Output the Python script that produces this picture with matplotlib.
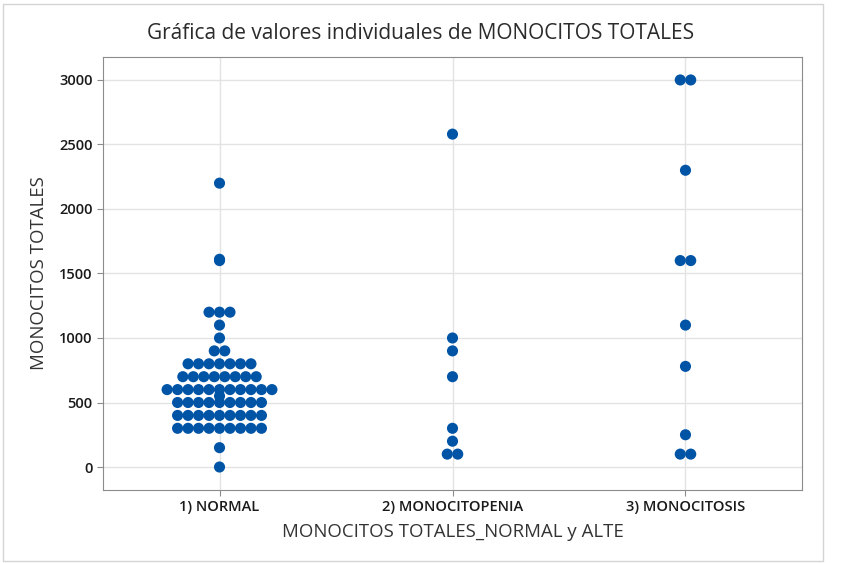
import numpy as np
import matplotlib.pyplot as plt
from matplotlib.patches import Rectangle

plt.rcParams['font.family'] = ['Open Sans', 'DejaVu Sans']

# Datos
grupos = ['1) NORMAL', '2) MONOCITOPENIA', '3) MONOCITOSIS']

normal = ([0, 150] + [300] * 9 + [400] * 9 + [500] * 9 + [550] + [600] * 11
          + [700] * 8 + [800] * 7 + [900] * 2 + [1000, 1100] + [1200] * 3
          + [1600, 1610, 2200])
monocitopenia = [100, 100, 200, 300, 700, 900, 1000, 2580]
monocitosis = [100, 100, 250, 780, 1100, 1600, 1600, 2300, 3000, 3000]

datos = [normal, monocitopenia, monocitosis]

color_punto = '#0054a6'
paso = 0.045  # separacion horizontal entre puntos repetidos

fig = plt.figure(figsize=(8.41, 5.63), dpi=100)
ax = fig.add_axes([0.1225, 0.1297, 0.8311, 0.7691])

for i, valores in enumerate(datos):
    valores = np.array(valores)
    for v in np.unique(valores):
        n = np.sum(valores == v)
        xs = (i + 1) + (np.arange(n) - (n - 1) / 2) * paso
        ax.scatter(xs, [v] * n, s=64, color=color_punto, edgecolors='none', zorder=3)

ax.set_xlim(0.5, 3.5)
ax.set_ylim(-178, 3178)
ax.set_xticks([1, 2, 3])
ax.set_xticklabels(grupos)
ax.set_yticks(np.arange(0, 3001, 500))

ax.grid(True, color='#e3e3e3', linewidth=1, zorder=0)
ax.set_axisbelow(True)
for s in ax.spines.values():
    s.set_color('#8c8c8c')
ax.tick_params(colors='#8c8c8c', labelcolor='#1a1a1a', labelsize=10.5, length=4)
for lab in ax.get_xticklabels() + ax.get_yticklabels():
    lab.set_fontweight('semibold')

ax.set_xlabel('MONOCITOS TOTALES_NORMAL y ALTE', fontsize=13.4, color='#333333', labelpad=6)
ax.set_ylabel('MONOCITOS TOTALES', fontsize=13.4, color='#333333', labelpad=8)
fig.text(0.5, 0.941, 'Gráfica de valores individuales de MONOCITOS TOTALES',
         ha='center', va='center', fontsize=15, color='#2b2b2b', fontweight='medium')

# marco exterior
fig.patches.append(Rectangle((3 / 841, 2 / 563), 820 / 841, 557 / 563,
                             transform=fig.transFigure, fill=False,
                             edgecolor='#d4d4d4', linewidth=1))

plt.savefig('out.png', dpi=100)
